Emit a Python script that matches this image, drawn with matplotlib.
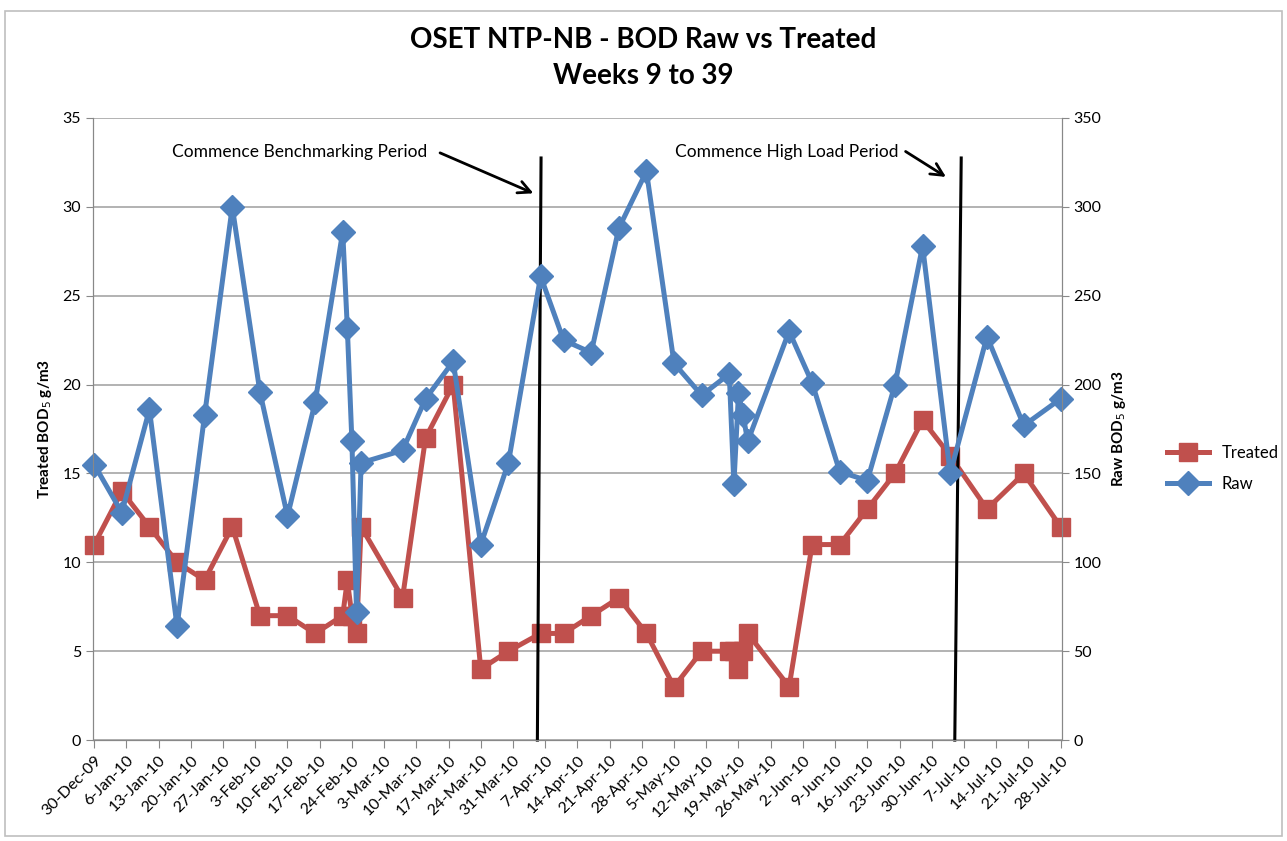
import datetime as dt
import matplotlib
matplotlib.use("Agg")
import matplotlib.pyplot as plt
import matplotlib.dates as mdates

# sample days (offset from 30-Dec-2009)
day_offsets = [0, 6, 12, 18, 24, 30, 36, 42, 48, 54, 55, 56, 57, 58, 67, 72, 78, 84, 90,
               97, 102, 108, 114, 120, 126, 132, 138, 139, 140, 141, 142, 151, 156, 162,
               168, 174, 180, 186, 194, 202, 210]
treated = [11, 14, 12, 10, 9, 12, 7, 7, 6, 7, 9, 7, 6, 12, 8, 17, 20, 4, 5,
           6, 6, 7, 8, 6, 3, 5, 5, 5, 4, 5, 6, 3, 11, 11,
           13, 15, 18, 16, 13, 15, 12]
raw = [155, 128, 186, 64, 183, 300, 196, 126, 190, 286, 232, 168, 72, 156, 163, 192, 213, 110, 156,
       261, 225, 218, 288, 320, 212, 194, 206, 144, 195, 183, 168, 230, 201, 151,
       146, 200, 278, 150, 227, 177, 192]

start = dt.datetime(2009, 12, 30)
dates = [start + dt.timedelta(days=d) for d in day_offsets]
tick_dates = [start + dt.timedelta(weeks=w) for w in range(31)]
tick_labels = [f"{d.day}-{d.strftime('%b-%y')}" for d in tick_dates]

plt.rcParams['font.family'] = ['Lato', 'DejaVu Sans']

fig = plt.figure(figsize=(12.87, 8.41), dpi=100)
ax = fig.add_axes([0.0723, 0.120, 0.7527, 0.7397])
ax2 = ax.twinx()

red = '#C0504D'
blue = '#4F81BD'
l1, = ax.plot(dates, treated, color=red, lw=3.6, marker='s', ms=12.5, label='Treated',
              clip_on=False)
l2, = ax2.plot(dates, raw, color=blue, lw=3.6, marker='D', ms=12, label='Raw',
               clip_on=False)

ax.set_xlim(tick_dates[0] - dt.timedelta(hours=6), tick_dates[-1] + dt.timedelta(hours=6))
ax.set_ylim(0, 35)
ax2.set_ylim(0, 350)
ax.set_yticks(range(0, 36, 5))
ax2.set_yticks(range(0, 351, 50))
ax.set_xticks(tick_dates)
ax.set_xticklabels(tick_labels, rotation=45, ha='right', rotation_mode='anchor', fontsize=11.5)
ax.tick_params(axis='y', labelsize=11.5, length=5, color='#888888')
ax2.tick_params(axis='y', labelsize=11.5, length=5, color='#888888')
ax.tick_params(axis='x', length=6, color='#888888')
ax.grid(axis='y', color='#a6a6a6', lw=1.2)
ax.set_axisbelow(True)
for a in (ax, ax2):
    a.spines['top'].set_visible(False)
    for s in ('left', 'right', 'bottom'):
        a.spines[s].set_color('#888888')
ax.set_ylabel('Treated BOD$_5$ g/m3', fontsize=11, fontweight='bold', labelpad=6)
ax2.set_ylabel('Raw BOD$_5$ g/m3', fontsize=11, fontweight='bold', labelpad=6)


# period markers
def d(x):
    return mdates.date2num(start + dt.timedelta(days=x))


ax.plot([d(96.3), d(97.1)], [0, 32.75], color='black', lw=2.2, zorder=5, clip_on=False)
ax.plot([d(187.0), d(188.4)], [0, 32.75], color='black', lw=2.2, zorder=5, clip_on=False)
ax2.annotate('', xy=(d(96.0), 307), xytext=(d(74.6), 331),
             arrowprops=dict(arrowstyle='->', color='black', lw=2, mutation_scale=22))
ax2.annotate('', xy=(d(185.6), 316), xytext=(d(175.8), 332),
             arrowprops=dict(arrowstyle='->', color='black', lw=2, mutation_scale=22))
ax2.text(d(44.7), 331, 'Commence Benchmarking Period', ha='center', va='center', fontsize=12.5)
ax2.text(d(150.4), 331, 'Commence High Load Period', ha='center', va='center', fontsize=12.5)

fig.suptitle('OSET NTP-NB - BOD Raw vs Treated\nWeeks 9 to 39', y=0.968,
             fontsize=20, fontweight='bold', linespacing=1.5)

fig.legend(handles=[l1, l2], loc='center left', bbox_to_anchor=(0.895, 0.443),
           frameon=False, fontsize=12, handlelength=2.5, labelspacing=0.9)

# outer chart border
fig.patches.append(plt.Rectangle((0.004, 0.006), 0.992, 0.981, transform=fig.transFigure,
                                 fill=False, edgecolor='#bfbfbf', lw=1.2))

fig.savefig('out.png', dpi=100)
